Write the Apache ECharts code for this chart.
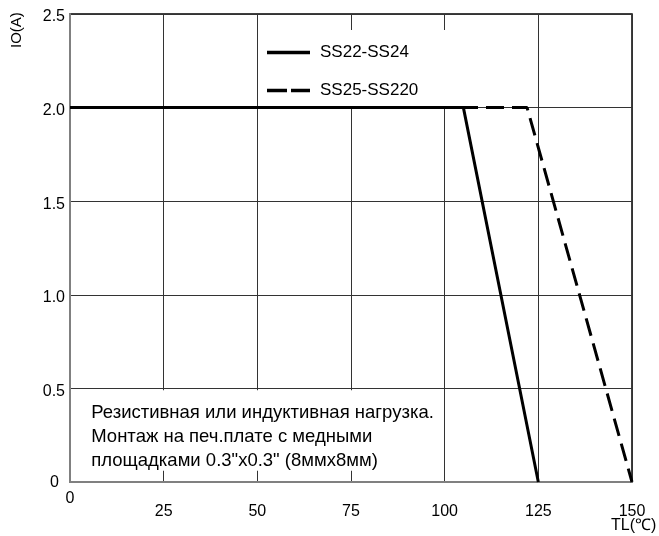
<!DOCTYPE html>
<html><head><meta charset="utf-8">
<script src="https://cdn.jsdelivr.net/npm/echarts@6/dist/echarts.min.js"></script>
<style>html,body{margin:0;padding:0;background:#fff}#c{width:659px;height:536px}</style>
</head><body><div id="c"></div>
<script>
const xTicks = [0, 25, 50, 75, 100, 125, 150];
const yTicks = [0, 0.5, 1.0, 1.5, 2.0, 2.5];
const ss22X = [0, 105, 125];
const ss22Y = [2, 2, 0];
const ss25X = [0, 122, 150];
const ss25Y = [2, 2, 0];
const seriesNames = ['SS22-SS24', 'SS25-SS220'];
const noteLines = ['Резистивная или индуктивная нагрузка.', 'Монтаж на печ.плате с медными', 'площадками 0.3"x0.3" (8ммx8мм)'];
const xName = 'TL(℃)';
const yName = 'IO(A)';

const F = 'Liberation Sans, Arial, sans-serif';
const chart = echarts.init(document.getElementById('c'), null, {renderer: 'canvas'});
const pairs = (xs, ys) => xs.map((x, i) => [x, ys[i]]);
const solidIcon = 'path://M0,0L43,0L43,3.5L0,3.5Z';
const dashIcon = 'path://M0,0L20,0L20,3.5L0,3.5Z M24,0L43,0L43,3.5L24,3.5Z';
chart.setOption({
  animation: false,
  backgroundColor: '#fff',
  grid: {left: 70, right: 27, top: 14, bottom: 54, show: true, borderColor: '#000', borderWidth: 1.5, backgroundColor: 'transparent'},
  xAxis: {
    type: 'value', min: xTicks[0], max: xTicks[xTicks.length - 1], interval: 25,
    axisLine: {show: true, lineStyle: {color: '#808080', width: 2}},
    axisTick: {show: false},
    splitLine: {show: true, lineStyle: {color: '#333', width: 1}},
    axisLabel: {
      margin: 9, fontFamily: F, fontSize: 16, color: '#000',
      formatter: v => v === 0 ? '{z|0}' : '{a|' + v + '}',
      rich: {z: {fontFamily: F, fontSize: 16, color: '#000'}, a: {fontFamily: F, fontSize: 16, color: '#000', padding: [13, 0, 0, 0]}}
    }
  },
  yAxis: {
    type: 'value', min: yTicks[0], max: yTicks[yTicks.length - 1], interval: 0.5,
    axisLine: {show: true, lineStyle: {color: '#808080', width: 2}},
    axisTick: {show: false},
    splitLine: {show: true, lineStyle: {color: '#333', width: 1}},
    axisLabel: {
      margin: 5, fontFamily: F, fontSize: 16, color: '#000',
      formatter: v => v === 0 ? '{z|0}' : '{a|' + v.toFixed(1) + '}',
      rich: {z: {fontFamily: F, fontSize: 16, color: '#000', padding: [2, 6, 0, 0]}, a: {fontFamily: F, fontSize: 16, color: '#000', padding: [6, 0, 0, 0]}}
    }
  },
  legend: {
    orient: 'vertical', left: 262, top: 30, itemWidth: 43, itemHeight: 3.5, itemGap: 21,
    padding: [14, 28, 10, 5], backgroundColor: '#fff',
    itemStyle: {color: '#000', borderWidth: 0},
    lineStyle: {width: 0},
    textStyle: {fontFamily: F, fontSize: 17, color: '#000', padding: [0, 0, 0, 5]},
    data: [
      {name: seriesNames[0], icon: solidIcon},
      {name: seriesNames[1], icon: dashIcon}
    ]
  },
  series: [
    {
      name: seriesNames[1], type: 'line', data: pairs(ss25X, ss25Y), symbol: 'none', z: 3,
      lineStyle: {color: '#000', width: 3, type: [18, 8]},
      itemStyle: {color: '#000'},
      markArea: {
        silent: true,
        itemStyle: {color: '#fff'},
        label: {
          show: true, position: 'insideTopLeft', distance: 0,
          padding: [11, 0, 0, 19], fontFamily: F, fontSize: 18.5, color: '#000', lineHeight: 24,
          formatter: noteLines.join('\n')
        },
        data: [[{xAxis: 0.6, yAxis: 0.06}, {xAxis: 99, yAxis: 0.49}]]
      }
    },
    {
      name: seriesNames[0], type: 'line', data: pairs(ss22X, ss22Y), symbol: 'none', z: 4,
      lineStyle: {color: '#000', width: 3, type: 'solid'},
      itemStyle: {color: '#000'}
    }
  ],
  graphic: [
    {type: 'text', left: 611, top: 518, style: {text: xName, fontFamily: F, fontSize: 16, fill: '#000'}},
    {type: 'text', x: 9, y: 48, rotation: Math.PI / 2, style: {text: yName, fontFamily: F, fontSize: 15, fill: '#000'}}
  ]
});
</script></body></html>
